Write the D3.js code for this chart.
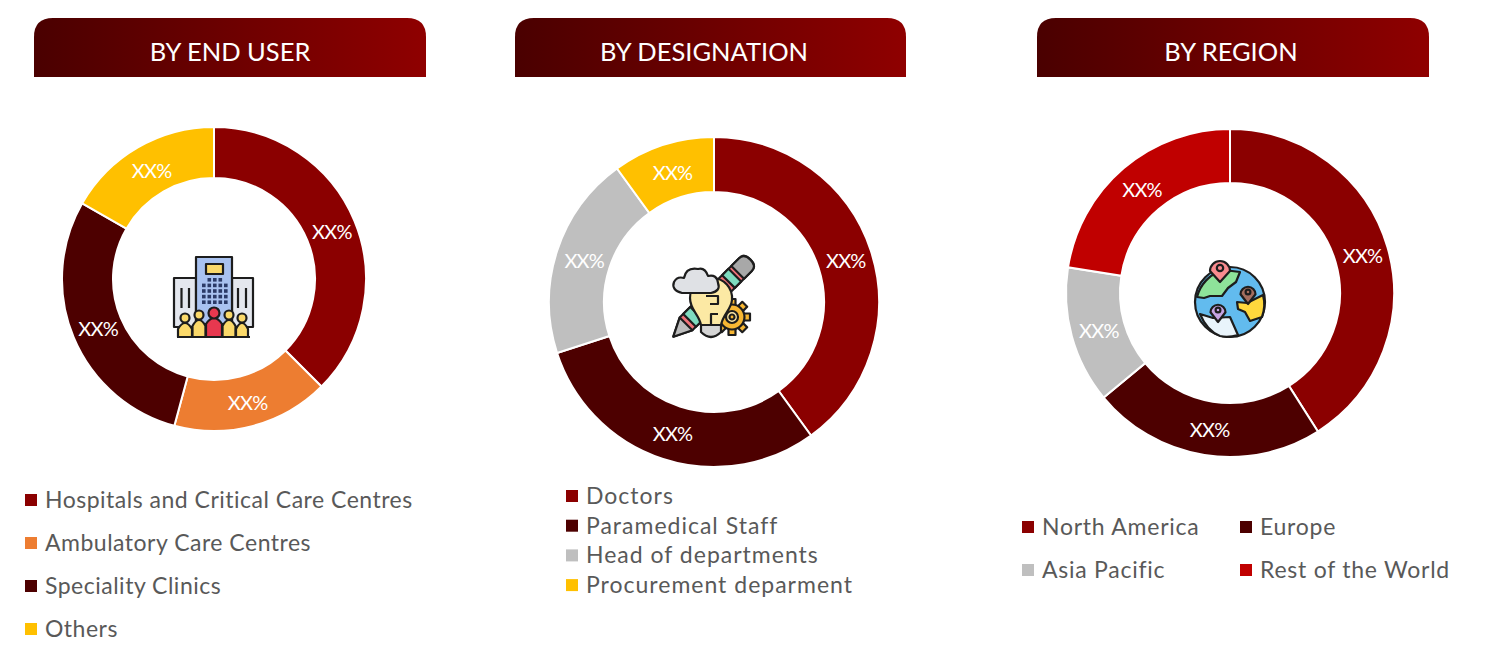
<!DOCTYPE html>
<html lang="en">
<head>
<meta charset="utf-8">
<title>Donut charts</title>
<script src="https://d3js.org/d3.v7.min.js"></script>
<style>
html, body { margin: 0; padding: 0; background: #fff; }
text { font-family: Lato, "Open Sans", sans-serif; }
.title { fill: #fff; font-size: 25.5px; text-anchor: middle; }
.slice-label { fill: #fff; font-size: 20px; text-anchor: middle; letter-spacing: -0.8px; }
.legend { fill: #595959; font-size: 23px; letter-spacing: 0.8px; }
</style>
</head>
<body>
<svg id="chart" width="1489" height="660"></svg>
<script>
// values, in percent
var endUserLabels = ["Hospitals and Critical Care Centres", "Ambulatory Care Centres", "Speciality Clinics", "Others"];
var endUserValues = [37.5, 16.7, 29.1, 16.7];
var endUserColors = ["#8b0000", "#ed7d31", "#4d0000", "#ffc000"];

var designationLabels = ["Doctors", "Paramedical Staff", "Head of departments", "Procurement deparment"];
var designationValues = [40, 30, 20, 10];
var designationColors = ["#8b0000", "#4d0000", "#bfbfbf", "#ffc000"];

var regionLabels = ["North America", "Europe", "Asia Pacific", "Rest of the World"];
var regionValues = [41, 23, 13.5, 22.5];
var regionColors = ["#8b0000", "#4d0000", "#bfbfbf", "#c00000"];

var sliceText = "XX%";
var svg = d3.select("#chart");

var grad = svg.append("defs").append("linearGradient").attr("id", "head");
grad.append("stop").attr("offset", "0%").attr("stop-color", "#4a0000");
grad.append("stop").attr("offset", "100%").attr("stop-color", "#8f0000");

function header(x, w, label, textX) {
  var y = 18, h = 59, r = 19;
  svg.append("path")
    .attr("d", "M" + x + "," + (y + h) + "V" + (y + r) + "Q" + x + "," + y + " " + (x + r) + "," + y +
      "H" + (x + w - r) + "Q" + (x + w) + "," + y + " " + (x + w) + "," + (y + r) + "V" + (y + h) + "Z")
    .attr("fill", "url(#head)");
  svg.append("text").attr("class", "title").attr("x", textX).attr("y", 61).text(label);
}

function donut(cx, cy, inner, outer, labels, values, colors) {
  var color = d3.scaleOrdinal().domain(labels).range(colors);
  var pie = d3.pie().sort(null);
  var arc = d3.arc().innerRadius(inner).outerRadius(outer);
  var g = svg.append("g").attr("transform", "translate(" + cx + "," + cy + ")");
  var arcs = pie(values);
  g.selectAll("path").data(arcs).enter().append("path")
    .attr("d", arc)
    .attr("fill", function(d, i) { return color(labels[i]); })
    .attr("stroke", "#fff")
    .attr("stroke-width", 2);
  g.selectAll("text").data(arcs).enter().append("text")
    .attr("class", "slice-label")
    .attr("transform", function(d) { return "translate(" + arc.centroid(d) + ")"; })
    .attr("dx", 1)
    .attr("dy", "0.42em")
    .text(sliceText);
}

// one legend entry: small square and its text
function legendItem(x, y, textGap, label, fill, spacing) {
  svg.append("rect").attr("x", x).attr("y", y - 6).attr("width", 12).attr("height", 12).attr("fill", fill);
  svg.append("text").attr("class", "legend").attr("x", x + textGap).attr("y", y + 8)
    .style("letter-spacing", spacing + "px").text(label);
}

header(34, 392, "BY END USER", 230);
header(515, 391, "BY DESIGNATION", 704);
header(1037, 392, "BY REGION", 1231);

donut(214, 279, 101, 152, endUserLabels, endUserValues, endUserColors);
donut(714, 302, 110, 165, designationLabels, designationValues, designationColors);
donut(1230, 293, 110, 164, regionLabels, regionValues, regionColors);

endUserLabels.forEach(function(l, i) { legendItem(25, 500 + i * 43, 20, l, endUserColors[i], 0.5); });
designationLabels.forEach(function(l, i) { legendItem(566, 496 + i * 29.7, 20, l, designationColors[i], 1); });
regionLabels.forEach(function(l, i) {
  legendItem(i % 2 ? 1240 : 1022, 527 + Math.floor(i / 2) * 43, 20, l, regionColors[i], 0.75);
});

// icons in the donut holes
var ink = "#1d1d1d";
function part(g, tag, attrs) {
  var el = g.append(tag);
  Object.keys(attrs).forEach(function(k) { el.attr(k, attrs[k]); });
  return el;
}

function buildingIcon() {
  var g = svg.append("g").attr("stroke", ink).attr("stroke-width", 2.2).attr("stroke-linejoin", "round");
  part(g, "rect", {x: 174, y: 278, width: 22, height: 49, fill: "#e4e7ee"});
  part(g, "rect", {x: 232, y: 278, width: 21, height: 49, fill: "#e4e7ee"});
  part(g, "rect", {x: 196, y: 257, width: 36, height: 67, fill: "#a9c2f0"});
  part(g, "rect", {x: 206, y: 264, width: 17, height: 10, fill: "#fbd96a"});
  [181.5, 189, 238, 246].forEach(function(x) { part(g, "line", {x1: x, x2: x, y1: 288, y2: 308}); });
  d3.range(5).forEach(function(r) {
    d3.range(5).forEach(function(c) {
      if (r == 0 && (c == 0 || c == 4)) return;
      part(g, "rect", {x: 202 + c * 5.5, y: 278 + r * 5.6, width: 3.6, height: 3.6, fill: "#2b3a67", stroke: "none"});
    });
  });
  [[185, 7, 323, "#fbd96a"], [199, 6.5, 320, "#fbd96a"], [229, 6.5, 320, "#fbd96a"], [242, 6, 323, "#fbd96a"], [214, 8, 318, "#e8384f"]].forEach(function(p) {
    part(g, "path", {d: "M" + (p[0] - p[1]) + ",337V" + (p[2] + 6) + "Q" + p[0] + "," + (p[2] - 6) + " " + (p[0] + p[1]) + "," + (p[2] + 6) + "V337Z", fill: p[3]});
    part(g, "circle", {cx: p[0], cy: p[2] - 5, r: p[0] == 214 ? 5.5 : 4.5, fill: p[3]});
  });
  part(g, "line", {x1: 177, x2: 250, y1: 337, y2: 337});
}

function ideaIcon() {
  var g = svg.append("g").attr("stroke", ink).attr("stroke-width", 2.2).attr("stroke-linejoin", "round");
  // pencil
  var p = part(g, "g", {transform: "translate(711.5,298.5) rotate(-45)"});
  part(p, "path", {d: "M-54,0L-36,-9H48Q55,-9 55,0Q55,9 48,9H-36Z", fill: "#f0737a"});
  part(p, "path", {d: "M-54,0L-36,-9V9Z", fill: "#bdbdbd"});
  part(p, "rect", {x: -31, y: -9, width: 10, height: 18, fill: "#7fdcc0"});
  part(p, "rect", {x: 24, y: -9, width: 9, height: 18, fill: "#7fdcc0"});
  part(p, "path", {d: "M37,-9H48Q55,-9 55,0Q55,9 48,9H37Z", fill: "#a8a8a8"});
  // gear
  var gear = part(g, "g", {transform: "translate(732,317)"});
  d3.range(8).forEach(function(i) {
    part(gear, "rect", {x: -3.5, y: -18, width: 7, height: 8, fill: "#f7b733", transform: "rotate(" + i * 45 + ")"});
  });
  part(gear, "circle", {r: 12.5, fill: "#f7b733"});
  part(gear, "circle", {r: 6, fill: "#fde9a8"});
  part(gear, "circle", {r: 2.5, fill: "#f7b733"});
  // bulb
  part(g, "path", {d: "M701,325C699,314 690,310 690,298C690,284 702,278 712,278C724,278 733,288 732,300C731,310 723,314 721,325Z", fill: "#fce9a4"});
  part(g, "path", {d: "M711,325V314H718M706,296H718V304H710", fill: "none"});
  part(g, "path", {d: "M701,325H721V332Q711,342 701,332Z", fill: "#d5d5d5"});
  // cloud
  part(g, "path", {d: "M682,293Q671,290 674,282Q677,276 684,278Q686,267 698,269Q705,267 708,276Q717,274 718,283Q721,291 711,293Z", fill: "#dfe1e5"});
}

function globeIcon() {
  var g = svg.append("g").attr("stroke", ink).attr("stroke-width", 2.2).attr("stroke-linejoin", "round");
  part(g, "circle", {cx: 1230, cy: 302, r: 35, fill: "#62bbee"});
  part(g, "path", {d: "M1197,297C1200,285 1210,273 1224,270L1240,272L1236,282L1228,288L1222,296L1210,296L1204,298Z", fill: "#8ee39a"});
  part(g, "path", {d: "M1237,302L1247,303L1263,295Q1266,306 1262,317L1250,321L1245,312L1238,309Z", fill: "#ffd83d"});
  part(g, "path", {d: "M1200,314L1213,318L1230,317L1238,335Q1228,338 1220,336Q1207,331 1200,314Z", fill: "#e9f4fb"});
  [[1220, 268, "#f98b8f", 10, 282], [1248, 292, "#a56e5e", 7.5, 304], [1218, 310, "#c6a3e3", 7.5, 322]].forEach(function(p) {
    var r = p[3];
    part(g, "path", {d: "M" + p[0] + "," + p[4] + "L" + (p[0] - r) + "," + (p[1] + r * 0.3) + "A" + r + "," + r + " 0 1 1 " + (p[0] + r) + "," + (p[1] + r * 0.3) + "Z", fill: p[2]});
    part(g, "circle", {cx: p[0], cy: p[1], r: r * 0.32, fill: "none"});
  });
}

buildingIcon();
ideaIcon();
globeIcon();
</script>
</body>
</html>
